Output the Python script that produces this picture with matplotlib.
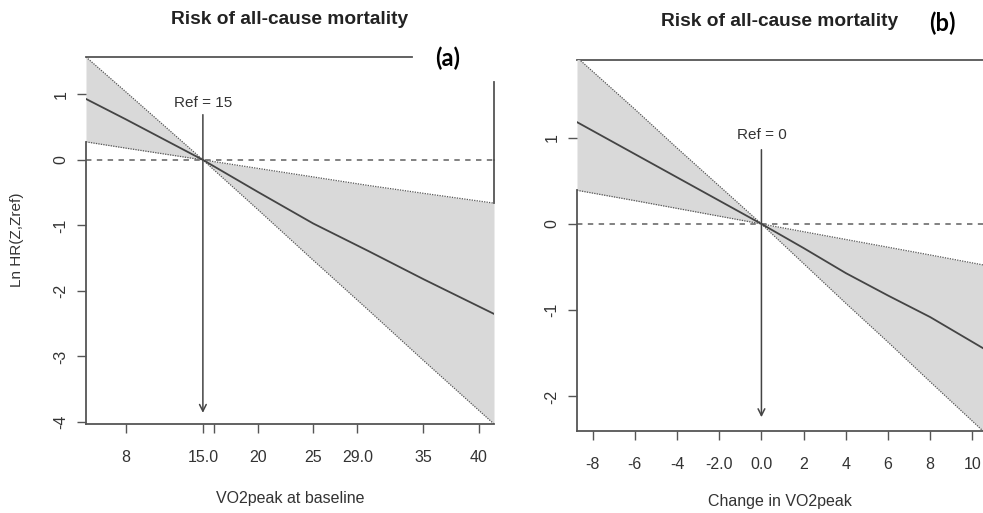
import matplotlib
matplotlib.use("Agg")
import matplotlib.pyplot as plt
import matplotlib.transforms as mtransforms

plt.rcParams['font.family'] = ['Liberation Sans', 'DejaVu Sans']

# panel (a): VO2peak at baseline
x_a = [4.4, 8, 15, 20, 25, 30, 35, 41.4]
est_a = [0.93, 0.62, 0.0, -0.49, -0.97, -1.39, -1.82, -2.35]
hi_a = [1.57, 1.04, 0.0, -0.13, -0.26, -0.39, -0.51, -0.66]
lo_a = [0.275, 0.18, 0.0, -0.76, -1.53, -2.29, -3.06, -4.03]
xticks_a = [8, 15, 16, 20, 25, 29, 35, 40]
xlabels_a = ['8', '15.0', '', '20', '25', '29.0', '35', '40']
yticks_a = [-4, -3, -2, -1, 0, 1]
ref_a = 15

# panel (b): change in VO2peak
x_b = [-8.74, -6, -4, -2, 0, 2, 4, 6, 8, 10.5]
est_b = [1.18, 0.81, 0.54, 0.27, 0.0, -0.28, -0.57, -0.83, -1.08, -1.44]
hi_b = [1.93, 1.33, 0.88, 0.44, 0.0, -0.09, -0.18, -0.27, -0.36, -0.475]
lo_b = [0.39, 0.27, 0.18, 0.09, 0.0, -0.46, -0.92, -1.37, -1.83, -2.40]
xticks_b = [-8, -6, -4, -2, 0, 2, 4, 6, 8, 10]
xlabels_b = ['-8', '-6', '-4', '-2.0', '0.0', '2', '4', '6', '8', '10']
yticks_b = [-2, -1, 0, 1]
ref_b = 0

title = 'Risk of all-cause mortality'
axcol = '#555555'
txtcol = '#333333'


def draw_panel(ax, x, est, hi, lo, xlim, ylim, xticks, xlabels, yticks, ref, arrow_y, ref_text_y):
    ax.set_xlim(*xlim)
    ax.set_ylim(*ylim)
    ax.fill_between(x, lo, hi, color='#d9d9d9', lw=0, zorder=1)
    ax.plot(x, hi, color='#555555', lw=0.9, ls=(0, (1, 1)), zorder=2)
    ax.plot(x, lo, color='#555555', lw=0.9, ls=(0, (1, 1)), zorder=2)
    ax.plot(x, est, color='#444444', lw=1.3, zorder=3)
    ax.axhline(0, color='#777777', lw=1.3, ls=(0, (3, 3)), zorder=2)
    ax.annotate('', xy=(ref, arrow_y[1]), xytext=(ref, arrow_y[0]),
                arrowprops=dict(arrowstyle='->', color='#444444', lw=1.1,
                                mutation_scale=12, shrinkA=0, shrinkB=0), zorder=4)
    ax.text(ref, ref_text_y, 'Ref = %g' % ref, ha='center', va='center',
            fontsize=11, color=txtcol)
    for s in ax.spines.values():
        s.set_visible(False)
    ax.set_xticks(xticks)
    ax.set_xticklabels(xlabels)
    ax.set_yticks(yticks)
    ax.set_yticklabels(['%d' % v for v in yticks])
    ax.tick_params(axis='both', direction='out', length=6.5, width=1, color=axcol,
                   labelsize=11.5, labelcolor=txtcol)
    ax.tick_params(axis='x', pad=12)
    ax.tick_params(axis='y', pad=6, labelrotation=90)
    for lab in ax.get_yticklabels():
        lab.set_va('center')
    # bottom axis line
    ax.plot([0, 1], [0, 0], transform=ax.transAxes, color=axcol, lw=1.3, clip_on=False, zorder=5)
    # left axis line, hidden behind the band above the lower bound
    tr = mtransforms.blended_transform_factory(ax.transAxes, ax.transData)
    ax.plot([0, 0], [ylim[0], lo[0]], transform=tr, color=axcol, lw=1.3, clip_on=False, zorder=5)
    return tr


fig = plt.figure(figsize=(9.83, 5.13), dpi=100)

ax_a = fig.add_axes([86 / 983, 1 - 424 / 513, 408 / 983, 367 / 513])
tr = draw_panel(ax_a, x_a, est_a, hi_a, lo_a, (4.4, 41.4), (-4.03, 1.57),
                xticks_a, xlabels_a, yticks_a, ref_a, (0.69, -3.86), 0.87)
ax_a.plot([0, 0.80], [1, 1], transform=ax_a.transAxes, color=axcol, lw=1.3, clip_on=False)
ax_a.plot([1, 1], [hi_a[-1], 0], transform=tr, color=axcol, lw=1.3, clip_on=False)
ax_a.plot([1, 1], [0, 1.57 - 0.068 * 5.6], transform=tr, color=axcol, lw=1.3, clip_on=False)
ax_a.set_xlabel('VO2peak at baseline', fontsize=11.5, color=txtcol, labelpad=19)
fig.text(17 / 983, 1 - 240 / 513, 'Ln HR(Z,Zref)', rotation=90, ha='center', va='center',
         fontsize=11, color=txtcol)
fig.text(290 / 983, 1 - 20 / 513, title, ha='center', va='center', fontsize=13.8,
         fontweight='bold', color='#222222')
fig.text(448 / 983, 1 - 58 / 513, '(a)', ha='center', va='center', fontsize=17,
         fontweight='bold', family=['Lato', 'DejaVu Sans'], color='black')

ax_b = fig.add_axes([577 / 983, 1 - 431 / 513, 406 / 983, 371 / 513])
draw_panel(ax_b, x_b, est_b, hi_b, lo_b, (-8.74, 10.5), (-2.40, 1.90),
           xticks_b, xlabels_b, yticks_b, ref_b, (0.86, -2.24), 1.03)
ax_b.plot([0, 1], [1, 1], transform=ax_b.transAxes, color=axcol, lw=1.3, clip_on=False, zorder=0)
ax_b.set_xlabel('Change in VO2peak', fontsize=11.5, color=txtcol, labelpad=16)
fig.text(780 / 983, 1 - 22 / 513, title, ha='center', va='center', fontsize=13.8,
         fontweight='bold', color='#222222')
fig.text(942 / 983, 1 - 23 / 513, '(b)', ha='center', va='center', fontsize=17,
         fontweight='bold', family=['Lato', 'DejaVu Sans'], color='black')

fig.savefig('out.png', dpi=100)
